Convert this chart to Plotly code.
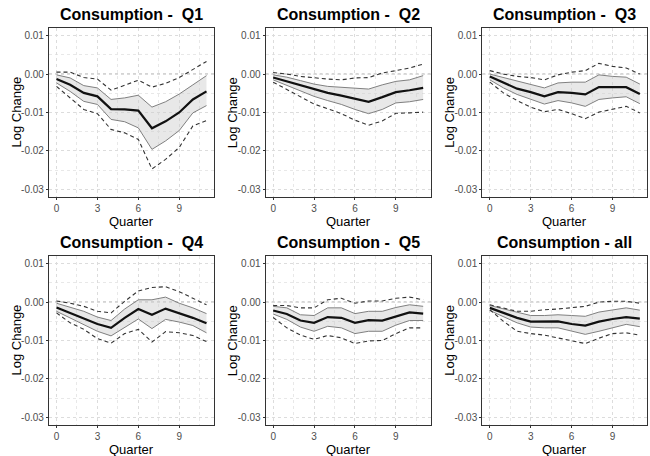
import plotly.graph_objects as go

# Impulse responses of consumption by income quintile (log change), quarters 0-11
quarters = list(range(12))

titles = ["Consumption -  Q1", "Consumption -  Q2", "Consumption -  Q3",
          "Consumption -  Q4", "Consumption -  Q5", "Consumption - all"]

# point estimates
q1_mid = [-0.0013, -0.0028, -0.0049, -0.0058, -0.0091, -0.0092, -0.0095, -0.0141, -0.0123, -0.0100, -0.0066, -0.0045]
q2_mid = [-0.0009, -0.0019, -0.0030, -0.0041, -0.0049, -0.0056, -0.0064, -0.0072, -0.0060, -0.0047, -0.0042, -0.0036]
q3_mid = [-0.0006, -0.0023, -0.0038, -0.0047, -0.0058, -0.0047, -0.0049, -0.0053, -0.0034, -0.0034, -0.0034, -0.0052]
q4_mid = [-0.0014, -0.0028, -0.0041, -0.0057, -0.0067, -0.0041, -0.0018, -0.0033, -0.0017, -0.0028, -0.0041, -0.0055]
q5_mid = [-0.0022, -0.0031, -0.0048, -0.0054, -0.0039, -0.0041, -0.0054, -0.0047, -0.0048, -0.0037, -0.0027, -0.0030]
all_mid = [-0.0015, -0.0028, -0.0041, -0.0051, -0.0051, -0.0050, -0.0057, -0.0061, -0.0051, -0.0044, -0.0039, -0.0043]

# inner band (upper / lower)
q1_hi_in = [-0.0002, -0.0010, -0.0030, -0.0036, -0.0066, -0.0062, -0.0055, -0.0086, -0.0072, -0.0052, -0.0028, -0.0004]
q1_lo_in = [-0.0023, -0.0045, -0.0071, -0.0079, -0.0118, -0.0124, -0.0140, -0.0196, -0.0174, -0.0147, -0.0101, -0.0082]
q2_hi_in = [-0.0002, -0.0008, -0.0017, -0.0026, -0.0032, -0.0034, -0.0036, -0.0039, -0.0028, -0.0019, -0.0015, -0.0004]
q2_lo_in = [-0.0015, -0.0029, -0.0045, -0.0058, -0.0069, -0.0079, -0.0092, -0.0103, -0.0092, -0.0075, -0.0072, -0.0066]
q3_hi_in = [0.0000, -0.0009, -0.0019, -0.0026, -0.0036, -0.0023, -0.0021, -0.0021, -0.0002, -0.0006, -0.0008, -0.0026]
q3_lo_in = [-0.0015, -0.0036, -0.0053, -0.0066, -0.0078, -0.0069, -0.0075, -0.0084, -0.0066, -0.0062, -0.0059, -0.0077]
q4_hi_in = [-0.0003, -0.0014, -0.0024, -0.0039, -0.0048, -0.0018, 0.0006, 0.0006, 0.0013, -0.0003, -0.0015, -0.0030]
q4_lo_in = [-0.0024, -0.0041, -0.0058, -0.0076, -0.0088, -0.0065, -0.0044, -0.0069, -0.0045, -0.0052, -0.0061, -0.0080]
q5_hi_in = [-0.0011, -0.0015, -0.0033, -0.0035, -0.0015, -0.0015, -0.0030, -0.0024, -0.0024, -0.0014, -0.0007, -0.0011]
q5_lo_in = [-0.0031, -0.0045, -0.0065, -0.0076, -0.0063, -0.0067, -0.0082, -0.0076, -0.0076, -0.0060, -0.0048, -0.0048]
all_hi_in = [-0.0009, -0.0018, -0.0028, -0.0035, -0.0035, -0.0033, -0.0035, -0.0037, -0.0026, -0.0020, -0.0015, -0.0021]
all_lo_in = [-0.0022, -0.0039, -0.0054, -0.0065, -0.0067, -0.0067, -0.0076, -0.0084, -0.0076, -0.0067, -0.0058, -0.0064]

# outer band (dashed, upper / lower)
q1_hi_out = [0.0005, 0.0005, -0.0009, -0.0013, -0.0042, -0.0030, -0.0016, -0.0034, -0.0024, -0.0009, 0.0011, 0.0033]
q1_lo_out = [-0.0032, -0.0062, -0.0092, -0.0103, -0.0144, -0.0153, -0.0170, -0.0247, -0.0222, -0.0191, -0.0135, -0.0121]
q2_hi_out = [0.0004, 0.0000, -0.0006, -0.0010, -0.0013, -0.0015, -0.0010, -0.0009, 0.0003, 0.0009, 0.0016, 0.0026]
q2_lo_out = [-0.0021, -0.0040, -0.0060, -0.0078, -0.0090, -0.0103, -0.0120, -0.0133, -0.0122, -0.0102, -0.0101, -0.0099]
q3_hi_out = [0.0009, 0.0000, -0.0006, -0.0009, -0.0015, -0.0002, 0.0005, 0.0009, 0.0028, 0.0020, 0.0016, 0.0000]
q3_lo_out = [-0.0021, -0.0049, -0.0069, -0.0086, -0.0098, -0.0092, -0.0103, -0.0116, -0.0099, -0.0091, -0.0084, -0.0101]
q4_hi_out = [0.0003, -0.0003, -0.0011, -0.0024, -0.0028, 0.0002, 0.0029, 0.0038, 0.0040, 0.0027, 0.0010, -0.0007]
q4_lo_out = [-0.0028, -0.0054, -0.0071, -0.0095, -0.0107, -0.0082, -0.0071, -0.0104, -0.0077, -0.0080, -0.0087, -0.0103]
q5_hi_out = [-0.0009, -0.0009, -0.0015, -0.0015, 0.0006, 0.0010, -0.0003, 0.0003, 0.0003, 0.0010, 0.0013, 0.0006]
q5_lo_out = [-0.0040, -0.0067, -0.0086, -0.0097, -0.0087, -0.0093, -0.0108, -0.0101, -0.0100, -0.0082, -0.0067, -0.0067]
all_hi_out = [-0.0007, -0.0015, -0.0024, -0.0024, -0.0020, -0.0018, -0.0014, -0.0011, 0.0000, 0.0002, 0.0002, -0.0003]
all_lo_out = [-0.0020, -0.0050, -0.0076, -0.0082, -0.0086, -0.0093, -0.0100, -0.0108, -0.0094, -0.0082, -0.0080, -0.0086]

x_ticks = [0, 3, 6, 9]
y_ticks = [0.01, 0.00, -0.01, -0.02, -0.03]
y_tick_text = ["0.01", "0.00", "-0.01", "-0.02", "-0.03"]
x_title = "Quarter"
y_title = "Log Change"

panels = [
    (q1_mid, q1_lo_in, q1_hi_in, q1_lo_out, q1_hi_out),
    (q2_mid, q2_lo_in, q2_hi_in, q2_lo_out, q2_hi_out),
    (q3_mid, q3_lo_in, q3_hi_in, q3_lo_out, q3_hi_out),
    (q4_mid, q4_lo_in, q4_hi_in, q4_lo_out, q4_hi_out),
    (q5_mid, q5_lo_in, q5_hi_in, q5_lo_out, q5_hi_out),
    (all_mid, all_lo_in, all_hi_in, all_lo_out, all_hi_out),
]

W, H = 650, 456
FONT = "Liberation Sans, Arial, sans-serif"
col_w = W / 3
plot_left, plot_right = 49, 214          # pixel offsets inside each column
row_tops = [28, 256]
row_bottoms = [197, 425]
x_title_y = [221, 449]                   # pixel centre of the x-axis title per row
y_title_x = 16                           # pixel centre of the y-axis title inside a column

fig = go.Figure()
layout = {}
annotations = []
shapes = []

for i, (mid, lo_in, hi_in, lo_out, hi_out) in enumerate(panels):
    r, c = divmod(i, 3)
    n = i + 1
    xa = "x" if n == 1 else f"x{n}"
    ya = "y" if n == 1 else f"y{n}"
    x0 = (c * col_w + plot_left) / W
    x1 = (c * col_w + plot_right) / W
    y0 = 1 - row_bottoms[r] / H
    y1 = 1 - row_tops[r] / H

    # shaded inner band
    fig.add_trace(go.Scatter(x=quarters, y=lo_in, mode="lines",
                             line=dict(color="#808080", width=1),
                             xaxis=xa, yaxis=ya, showlegend=False, hoverinfo="skip"))
    fig.add_trace(go.Scatter(x=quarters, y=hi_in, mode="lines",
                             line=dict(color="#808080", width=1),
                             fill="tonexty", fillcolor="rgba(205,205,205,0.45)",
                             xaxis=xa, yaxis=ya, showlegend=False, hoverinfo="skip"))
    # dashed outer band
    for ser in (lo_out, hi_out):
        fig.add_trace(go.Scatter(x=quarters, y=ser, mode="lines",
                                 line=dict(color="#333333", width=1.1, dash="4px,3px"),
                                 xaxis=xa, yaxis=ya, showlegend=False, hoverinfo="skip"))
    # point estimate
    fig.add_trace(go.Scatter(x=quarters, y=mid, mode="lines",
                             line=dict(color="#111111", width=2.2),
                             xaxis=xa, yaxis=ya, showlegend=False))

    ax_common = dict(showline=True, mirror=True, linecolor="#333333", linewidth=1.2,
                     ticks="outside", ticklen=2, tickwidth=1, tickcolor="#333333",
                     tickfont=dict(family=FONT, size=10, color="#4d4d4d"),
                     showgrid=True, gridcolor="#dcdcdc", griddash="dot", gridwidth=1,
                     zeroline=False)
    layout["xaxis" if n == 1 else f"xaxis{n}"] = dict(
        ax_common, domain=[x0, x1], anchor=ya, range=[-0.55, 11.55],
        tickvals=x_ticks, ticktext=[str(t) for t in x_ticks],
        minor=dict(tickvals=[1.5, 4.5, 7.5, 10.5], showgrid=True, gridcolor="#e8e8e8",
                   griddash="dot", gridwidth=1, ticks=""))
    layout["yaxis" if n == 1 else f"yaxis{n}"] = dict(
        ax_common, domain=[y0, y1], anchor=xa, range=[-0.032, 0.012],
        tickvals=y_ticks, ticktext=y_tick_text,
        minor=dict(tickvals=[0.005, -0.005, -0.015, -0.025], showgrid=True,
                   gridcolor="#e8e8e8", griddash="dot", gridwidth=1, ticks=""))

    # reference line at zero
    shapes.append(dict(type="line", xref=f"{xa} domain", yref=ya, x0=0, x1=1, y0=0, y1=0,
                       line=dict(color="#9a9a9a", width=1, dash="dot"), layer="below"))
    # panel title
    annotations.append(dict(text=f"<b>{titles[i].replace(' ', '&nbsp;')}</b>",
                            xref="paper", yref="paper", x=(x0 + x1) / 2, y=y1,
                            yshift=3, xanchor="center", yanchor="bottom", showarrow=False,
                            font=dict(family=FONT, size=16, color="#000")))
    # axis titles
    annotations.append(dict(text=x_title, xref="paper", yref="paper",
                            x=(x0 + x1) / 2, y=1 - x_title_y[r] / H,
                            xanchor="center", yanchor="middle", showarrow=False,
                            font=dict(family=FONT, size=13, color="#000")))
    annotations.append(dict(text=y_title, xref="paper", yref="paper",
                            x=(c * col_w + y_title_x) / W, y=(y0 + y1) / 2,
                            textangle=-90, xanchor="center", yanchor="middle",
                            showarrow=False,
                            font=dict(family=FONT, size=13, color="#000")))

fig.update_layout(width=W, height=H, margin=dict(l=0, r=0, t=0, b=0),
                  paper_bgcolor="white", plot_bgcolor="white",
                  annotations=annotations, shapes=shapes, **layout)
fig.write_html("out.html")
